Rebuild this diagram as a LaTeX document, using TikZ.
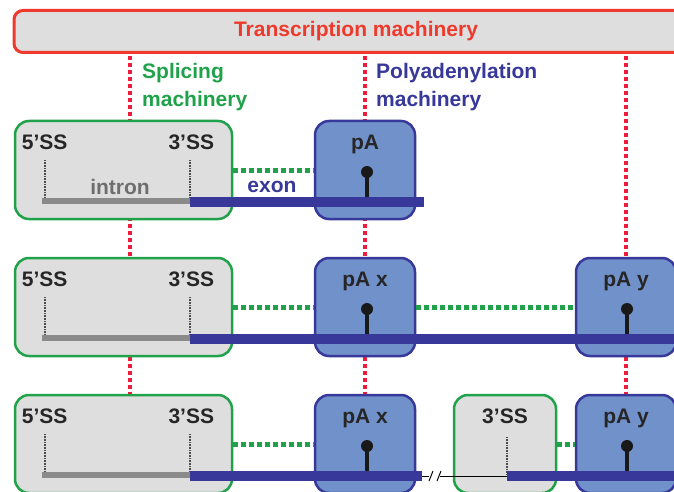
\documentclass[tikz,border=0pt]{standalone}
\usepackage{fontspec}
\setmainfont{Liberation Sans}
\usetikzlibrary{calc,positioning}
\usepackage{xcolor}

\definecolor{machred}{HTML}{EE3A2C}
\definecolor{dotred}{HTML}{EC1C3A}
\definecolor{splgreen}{HTML}{1FA24A}
\definecolor{polyblue}{HTML}{37389A}
\definecolor{pafill}{HTML}{7191CB}
\definecolor{boxgray}{HTML}{DEDEDE}
\definecolor{introngray}{HTML}{8A8A8A}
\definecolor{introntext}{HTML}{6E6E6E}

\begin{document}
\begin{tikzpicture}[
        x=1pt, y=-1pt,
        lbl/.style={
            inner sep=0pt,
            font=\fontsize{21}{28}\selectfont\bfseries,
            text=black!85
        },
        machbox/.style={
            rectangle,
            rounded corners=9pt,
            draw=machred,
            line width=3pt,
            fill=boxgray,
            minimum width=684pt,
            minimum height=42pt,
            font=\fontsize{21}{28}\selectfont\bfseries,
            text=machred
        },
        ssbox/.style={
            rectangle,
            rounded corners=14pt,
            draw=splgreen,
            line width=2.5pt,
            fill=boxgray,
            minimum width=217pt,
            minimum height=98pt
        },
        pabox/.style={
            rectangle,
            rounded corners=14pt,
            draw=polyblue,
            line width=2.5pt,
            fill=pafill,
            minimum width=100pt,
            minimum height=98pt
        },
        redlink/.style={
            dotred,
            line width=4pt,
            dash pattern=on 4pt off 3pt
        },
        greenlink/.style={
            splgreen,
            line width=5pt,
            dash pattern=on 5pt off 3pt
        },
        ssmark/.style={
            black!70,
            line width=1.5pt,
            dash pattern=on 1pt off 0.6pt
        },
        intron/.style={
            introngray,
            line width=6pt
        },
        exon/.style={
            polyblue,
            line width=10pt
        },
        stalk/.style={
            black!90,
            line width=4pt
        }
    ]
    \useasboundingbox (0,0) rectangle (674,492);

    % Red machinery links (behind everything)
    \coordinate (lnkA) at (130,56);
    \coordinate (lnkB) at (365,56);
    \coordinate (lnkC) at (626,56);
    \draw[redlink] (lnkA) -- (lnkA |- 0,492);
    \draw[redlink] (lnkB) -- (lnkB |- 0,492);
    \draw[redlink] (lnkC) -- (lnkC |- 0,492);

    % Transcription machinery
    \node[machbox] (tm) at (356,31.5) {Transcription machinery};

    % Machinery labels
    \node[lbl, anchor=north west, align=left, text=splgreen] (splice)
        at (142,63) {Splicing\\machinery};
    \node[lbl, anchor=north west, align=left, text=polyblue] (polya)
        at (376,63) {Polyadenylation\\machinery};

    % Row 1
    \node[ssbox] (ss1) at (123.5,170) {};
    \node[pabox] (pa1) at (365,170) {};
    \node[lbl, below right=15pt and 8pt of ss1.north west] (fiveA) {5'SS};
    \node[lbl, below left=15pt and 19pt of ss1.north east] (threeA) {3'SS};
    \node[lbl, below=15pt of pa1.north] (pAa) {pA};
    \draw[greenlink] (ss1.east) -- (pa1.west);
    \draw[ssmark] (45,160) -- (45,200);
    \draw[ssmark] (190,160) -- (190,200);
    \draw[intron] (42,201) -- (190,201);
    \node[lbl, text=introntext] (intr) at (120,187) {intron};
    \node[lbl, text=polyblue] (exn) at (272,187) {exon};
    \draw[exon] (190,202) -- (424,202);
    \draw[stalk] (367,172) -- (367,197);
    \fill[black!90] (367,172) circle (6pt);

    % Row 2
    \node[ssbox] (ss2) at (123.5,307) {};
    \node[pabox] (pa2) at (365,307) {};
    \node[pabox] (pb2) at (626,307) {};
    \node[lbl, below right=15pt and 8pt of ss2.north west] (fiveB) {5'SS};
    \node[lbl, below left=15pt and 19pt of ss2.north east] (threeB) {3'SS};
    \node[lbl, below=15pt of pa2.north] (pAx) {pA x};
    \node[lbl, below=15pt of pb2.north] (pAy) {pA y};
    \draw[greenlink] (ss2.east) -- (pa2.west);
    \draw[greenlink] (pa2.east) -- (pb2.west);
    \draw[ssmark] (45,297) -- (45,337);
    \draw[ssmark] (190,297) -- (190,337);
    \draw[intron] (42,338) -- (190,338);
    \draw[exon] (190,339) -- (690,339);
    \draw[stalk] (367,309) -- (367,334);
    \fill[black!90] (367,309) circle (6pt);
    \draw[stalk] (627,309) -- (627,334);
    \fill[black!90] (627,309) circle (6pt);

    % Row 3
    \node[ssbox] (ss3) at (123.5,444) {};
    \node[pabox] (pa3) at (365,444) {};
    \node[ssbox, minimum width=102pt] (ss4) at (505,444) {};
    \node[pabox] (pb3) at (626,444) {};
    \node[lbl, below right=15pt and 8pt of ss3.north west] (fiveC) {5'SS};
    \node[lbl, below left=15pt and 19pt of ss3.north east] (threeC) {3'SS};
    \node[lbl, below=15pt of ss4.north] (threeD) {3'SS};
    \node[lbl, below=15pt of pa3.north] (pAx2) {pA x};
    \node[lbl, below=15pt of pb3.north] (pAy2) {pA y};
    \draw[greenlink] (ss3.east) -- (pa3.west);
    \draw[greenlink] (ss4.east) -- (pb3.west);
    \draw[ssmark] (45,434) -- (45,474);
    \draw[ssmark] (190,434) -- (190,474);
    \draw[ssmark] (507,437) -- (507,474);
    \draw[intron] (42,475) -- (190,475);
    \draw[exon] (190,476) -- (422,476);
    \draw[black, line width=1pt] (422,476) -- (429,476);
    \draw[black, line width=1pt] (429,481) -- (433,471);
    \draw[black, line width=1pt] (437,481) -- (441,471);
    \draw[black, line width=1pt] (440,476) -- (507,476);
    \draw[exon] (507,476) -- (690,476);
    \draw[stalk] (367,446) -- (367,471);
    \fill[black!90] (367,446) circle (6pt);
    \draw[stalk] (627,446) -- (627,471);
    \fill[black!90] (627,446) circle (6pt);
\end{tikzpicture}
\end{document}
